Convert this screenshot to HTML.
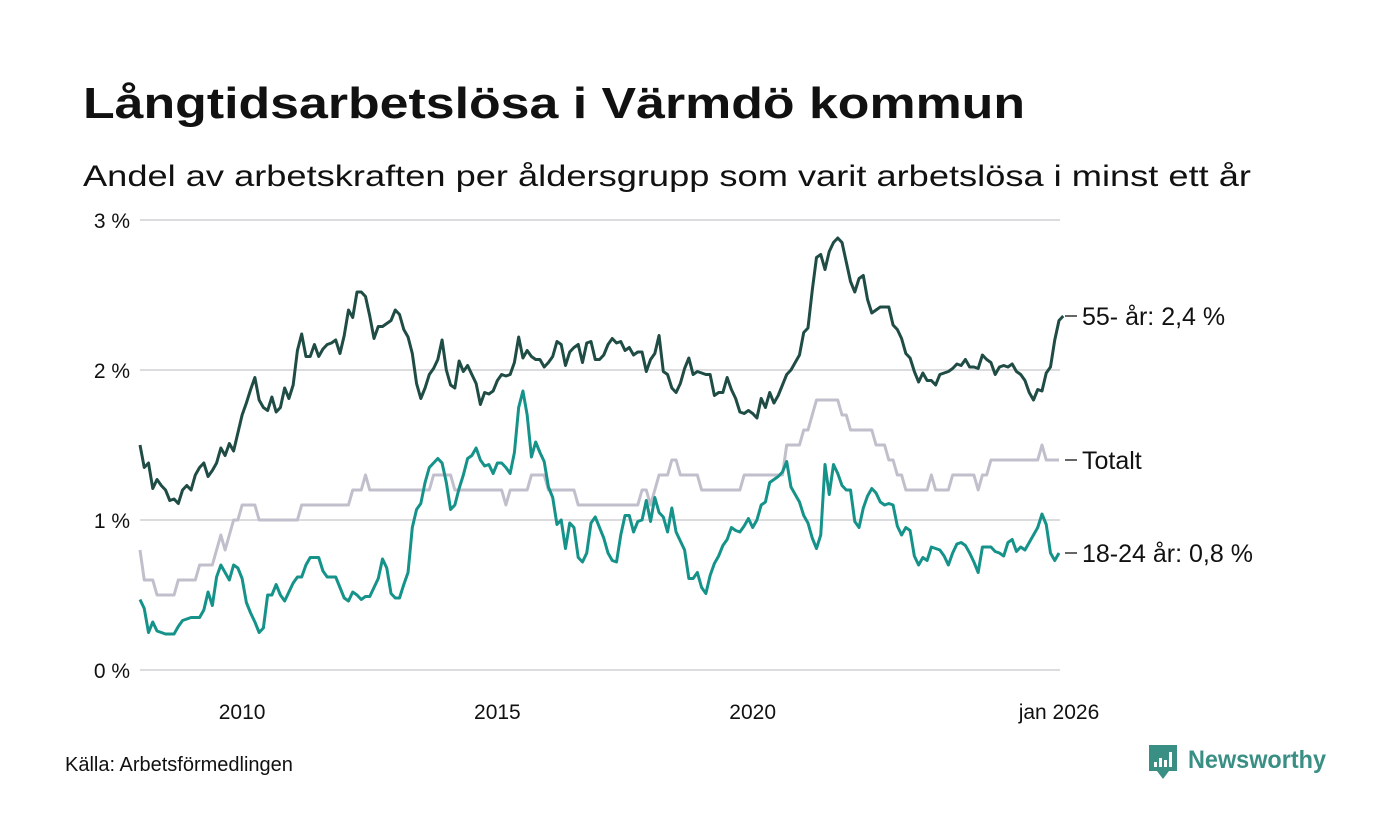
<!DOCTYPE html>
<html><head><meta charset="utf-8"><style>
html,body{margin:0;padding:0;background:#fff;}
svg{display:block;font-family:"Liberation Sans","Noto Sans CJK SC",sans-serif;}
</style></head><body>
<svg width="1400" height="840" viewBox="0 0 1400 840">
<text x="83" y="118" font-size="44" font-weight="bold" fill="#111" textLength="942" lengthAdjust="spacingAndGlyphs">Långtidsarbetslösa i Värmdö kommun</text>
<text x="83" y="186" font-size="30" fill="#111" textLength="1168" lengthAdjust="spacingAndGlyphs">Andel av arbetskraften per åldersgrupp som varit arbetslösa i minst ett år</text>
<g id="grid"></g>
<g id="series"></g>
<g id="labels"></g>
<text x="65" y="771" font-size="20" fill="#111">Källa: Arbetsförmedlingen</text>
<g>
<path d="M1149 745 h28 v26 h-8 l-6 8 l-6 -8 h-8 z" fill="#3a8f85"/>
<rect x="1154" y="762" width="3" height="5" fill="#fff"/><rect x="1159" y="758" width="3" height="9" fill="#fff"/><rect x="1164" y="760" width="3" height="7" fill="#fff"/><rect x="1169" y="752" width="3" height="15" fill="#fff"/>
<text x="1188" y="768" font-size="25" font-weight="bold" fill="#3a8f85" textLength="138" lengthAdjust="spacingAndGlyphs">Newsworthy</text>
</g>
</svg>
<script>
const yTicks = [0, 1, 2, 3];
const yTickLabels = ["0 %", "1 %", "2 %", "3 %"];
const xTickMonths = [24, 84, 144, 216];
const xTickLabels = ["2010", "2015", "2020", "jan 2026"];
const seriesNames = ["55- år: 2,4 %", "Totalt", "18-24 år: 0,8 %"];
const old55 = [1.50,1.35,1.38,1.21,1.27,1.23,1.20,1.13,1.14,1.11,1.20,1.23,
1.20,1.30,1.35,1.38,1.29,1.33,1.38,1.48,1.43,1.51,1.46,1.58,
1.70,1.78,1.87,1.95,1.80,1.75,1.73,1.82,1.72,1.75,1.88,1.81,
1.90,2.13,2.24,2.09,2.09,2.17,2.09,2.14,2.17,2.18,2.20,2.11,
2.23,2.40,2.35,2.52,2.52,2.49,2.36,2.21,2.29,2.29,2.31,2.33,
2.40,2.37,2.27,2.22,2.11,1.91,1.81,1.88,1.97,2.01,2.07,2.20,
2.00,1.90,1.88,2.06,1.99,2.03,1.97,1.91,1.77,1.85,1.84,1.86,
1.93,1.97,1.96,1.97,2.05,2.22,2.08,2.13,2.09,2.07,2.07,2.02,
2.05,2.09,2.19,2.17,2.03,2.12,2.15,2.17,2.05,2.18,2.19,2.07,
2.07,2.10,2.17,2.21,2.18,2.19,2.13,2.15,2.10,2.12,2.12,1.99,
2.07,2.11,2.23,1.99,1.97,1.88,1.85,1.91,2.01,2.08,1.97,1.99,
1.98,1.97,1.97,1.83,1.85,1.85,1.95,1.87,1.81,1.72,1.71,1.73,
1.71,1.68,1.81,1.75,1.85,1.78,1.83,1.90,1.97,2.00,2.05,2.10,
2.25,2.28,2.53,2.75,2.77,2.67,2.79,2.85,2.88,2.85,2.72,2.59,
2.52,2.61,2.63,2.47,2.38,2.40,2.42,2.42,2.42,2.30,2.27,2.21,
2.11,2.08,1.99,1.92,1.98,1.93,1.93,1.90,1.97,1.98,1.99,2.01,
2.04,2.03,2.07,2.02,2.02,2.01,2.10,2.07,2.05,1.97,2.02,2.03,
2.02,2.04,1.99,1.97,1.93,1.85,1.80,1.87,1.86,1.98,2.02,2.20,
2.33,2.36];
const total = [0.8,0.6,0.6,0.6,0.5,0.5,0.5,0.5,0.5,0.6,0.6,0.6,
0.6,0.6,0.7,0.7,0.7,0.7,0.8,0.9,0.8,0.9,1.0,1.0,
1.1,1.1,1.1,1.1,1.0,1.0,1.0,1.0,1.0,1.0,1.0,1.0,
1.0,1.0,1.1,1.1,1.1,1.1,1.1,1.1,1.1,1.1,1.1,1.1,
1.1,1.1,1.2,1.2,1.2,1.3,1.2,1.2,1.2,1.2,1.2,1.2,
1.2,1.2,1.2,1.2,1.2,1.2,1.2,1.2,1.2,1.3,1.3,1.3,
1.3,1.3,1.2,1.2,1.2,1.2,1.2,1.2,1.2,1.2,1.2,1.2,
1.2,1.2,1.1,1.2,1.2,1.2,1.2,1.2,1.3,1.3,1.3,1.3,
1.2,1.2,1.2,1.2,1.2,1.2,1.2,1.1,1.1,1.1,1.1,1.1,
1.1,1.1,1.1,1.1,1.1,1.1,1.1,1.1,1.1,1.1,1.2,1.2,
1.1,1.2,1.3,1.3,1.3,1.4,1.4,1.3,1.3,1.3,1.3,1.3,
1.2,1.2,1.2,1.2,1.2,1.2,1.2,1.2,1.2,1.2,1.3,1.3,
1.3,1.3,1.3,1.3,1.3,1.3,1.3,1.3,1.5,1.5,1.5,1.5,
1.6,1.6,1.7,1.8,1.8,1.8,1.8,1.8,1.8,1.7,1.7,1.6,
1.6,1.6,1.6,1.6,1.6,1.5,1.5,1.5,1.4,1.4,1.3,1.3,
1.2,1.2,1.2,1.2,1.2,1.2,1.3,1.2,1.2,1.2,1.2,1.3,
1.3,1.3,1.3,1.3,1.3,1.2,1.3,1.3,1.4,1.4,1.4,1.4,
1.4,1.4,1.4,1.4,1.4,1.4,1.4,1.4,1.5,1.4,1.4,1.4,
1.4];
const young = [0.47,0.41,0.25,0.32,0.26,0.25,0.24,0.24,0.24,0.29,0.33,0.34,
0.35,0.35,0.35,0.40,0.52,0.43,0.62,0.70,0.65,0.60,0.70,0.68,
0.61,0.45,0.38,0.32,0.25,0.28,0.50,0.50,0.57,0.50,0.46,0.52,
0.58,0.62,0.62,0.70,0.75,0.75,0.75,0.66,0.62,0.62,0.62,0.55,
0.48,0.46,0.52,0.50,0.47,0.49,0.49,0.55,0.61,0.74,0.68,0.51,
0.48,0.48,0.57,0.65,0.95,1.07,1.11,1.25,1.35,1.38,1.41,1.38,
1.25,1.07,1.10,1.21,1.30,1.41,1.43,1.48,1.40,1.36,1.37,1.31,
1.38,1.38,1.35,1.31,1.45,1.75,1.86,1.70,1.42,1.52,1.45,1.39,
1.22,1.15,0.97,1.00,0.81,0.98,0.95,0.75,0.72,0.78,0.98,1.02,
0.95,0.88,0.78,0.73,0.72,0.90,1.03,1.03,0.92,0.99,1.00,1.13,
0.99,1.15,1.05,1.02,0.92,1.08,0.92,0.86,0.80,0.61,0.61,0.65,
0.55,0.51,0.63,0.71,0.76,0.83,0.87,0.95,0.93,0.92,0.96,1.01,
0.95,1.00,1.10,1.12,1.25,1.27,1.29,1.32,1.39,1.22,1.17,1.12,
1.03,0.98,0.88,0.81,0.90,1.37,1.17,1.37,1.31,1.23,1.20,1.20,
0.99,0.95,1.08,1.16,1.21,1.18,1.12,1.10,1.11,1.10,0.96,0.90,
0.95,0.93,0.76,0.70,0.75,0.73,0.82,0.81,0.80,0.76,0.70,0.78,
0.84,0.85,0.83,0.78,0.72,0.65,0.82,0.82,0.82,0.79,0.78,0.76,
0.85,0.87,0.79,0.82,0.80,0.85,0.90,0.95,1.04,0.97,0.78,0.73,
0.78];

const NS = "http://www.w3.org/2000/svg";
const X0 = 140, X1 = 1059, NMONTHS = 216;
const xScale = m => X0 + (X1 - X0) * m / NMONTHS;
const yScale = v => 670 - 150 * v;
function mk(tag, attrs, parent) {
  const el = document.createElementNS(NS, tag);
  for (const k in attrs) el.setAttribute(k, attrs[k]);
  parent.appendChild(el);
  return el;
}
const grid = document.getElementById("grid");
yTicks.forEach((t, i) => {
  const ln = mk("line", {x1: 140, x2: 1060, y1: yScale(t), y2: yScale(t), stroke: "#dcdcdf", "stroke-width": 2}, grid);
  
  
  const tx = mk("text", {x: 130, y: yScale(t) + 8, "text-anchor": "end", "font-size": 21, fill: "#111"}, grid);
  tx.textContent = yTickLabels[i];
  
  
});
xTickMonths.forEach((m, i) => {
  const tx = mk("text", {x: xScale(m), y: 719, "text-anchor": "middle", "font-size": 21, fill: "#111"}, grid);
  tx.textContent = xTickLabels[i];
  
  
});
const seriesG = document.getElementById("series");
function line(data, color, name) {
  const d = data.map((v, i) => (i ? "L" : "M") + xScale(i).toFixed(2) + " " + yScale(v).toFixed(2)).join(" ");
  const p = mk("path", {d: d, fill: "none", stroke: color, "stroke-width": 3, "stroke-linejoin": "round"}, seriesG);
  
  
}
line(total, "#c1bfcb", "line-totalt");
line(young, "#15938a", "line-18-24");
line(old55, "#1f4c44", "line-55-plus");
const labelsG = document.getElementById("labels");
const ends = [old55[old55.length - 1], total[total.length - 1], young[young.length - 1]];
ends.forEach((v, i) => {
  const y = yScale(v);
  const ln = mk("line", {x1: 1065, x2: 1077, y1: y, y2: y, stroke: "#333", "stroke-width": 1.5}, labelsG);
  
  
  const tx = mk("text", {x: 1082, y: y + 9, "font-size": 25, fill: "#111"}, labelsG);
  tx.textContent = seriesNames[i];
  
  
});
</script>
</body></html>
